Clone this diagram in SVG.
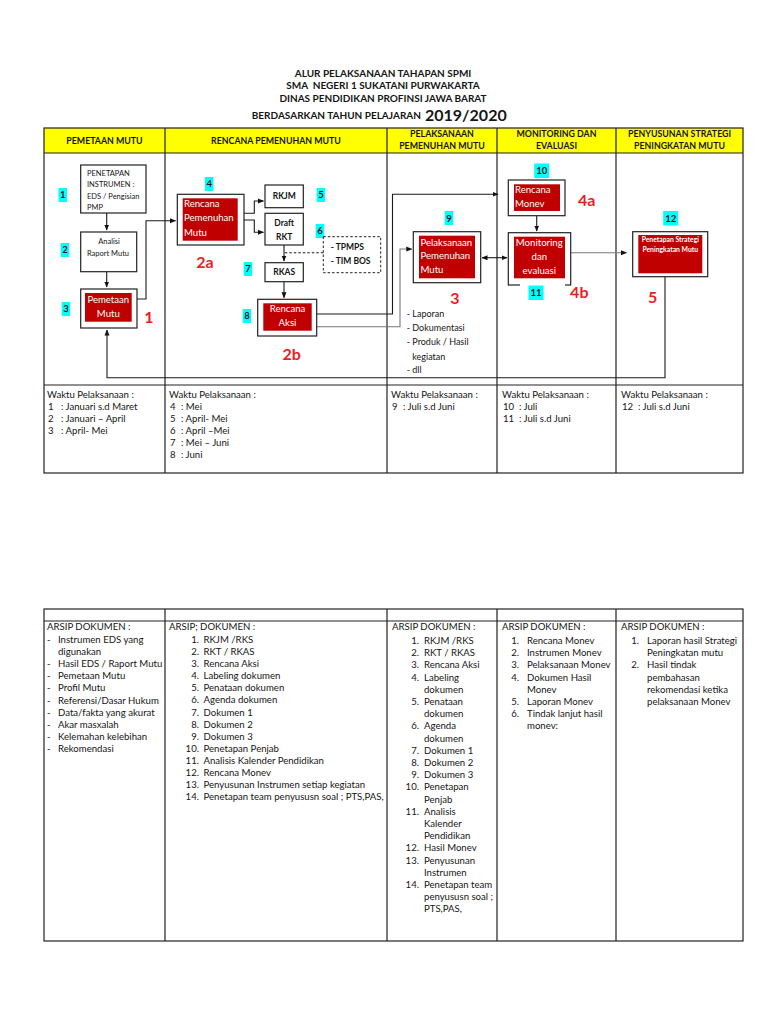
<svg xmlns="http://www.w3.org/2000/svg" width="768" height="1024" viewBox="0 0 768 1024">
<style>
text{font-family:Lato,"Liberation Sans",sans-serif;fill:#151515}
.ti{font-size:10px;font-weight:bold;text-anchor:middle}
.hd{font-size:8.8px;font-weight:bold;text-anchor:middle}
.tb{fill:none;stroke:#222;stroke-width:1.2}
.bx{fill:#fff;stroke:#222;stroke-width:1.2}
.rd{fill:#C00000}
.wt{fill:#fff;font-size:9.6px}
.sm{font-size:7.5px}
.nd{font-size:8.5px;font-weight:bold}
.bl{font-size:9px}
.lb{fill:#00FFFF}
.ln{font-size:9.5px;font-weight:bold;text-anchor:middle}
.big{fill:#EE1C25;font-size:16px;font-weight:bold;text-anchor:middle}
.bd{font-size:9.6px}
.c{stroke:#1a1a1a;stroke-width:1.1;fill:none}
.g{stroke:#777;stroke-width:1.1;fill:none}
.e{text-anchor:end}
.m{text-anchor:middle}
</style>
<defs>
<marker id="ah" markerWidth="6" markerHeight="6" refX="5.5" refY="3" orient="auto-start-reverse" markerUnits="userSpaceOnUse"><path d="M0,0.5 L6,3 L0,5.5z" fill="#111"/></marker>
</defs>
<rect width="768" height="1024" fill="#fff"/>

<g id="title">
<text class="ti" x="383" y="76.5">ALUR PELAKSANAAN TAHAPAN SPMI</text>
<text class="ti" x="383" y="89" xml:space="preserve">SMA  NEGERI 1 SUKATANI PURWAKARTA</text>
<text class="ti" x="383" y="101.5">DINAS PENDIDIKAN PROFINSI JAWA BARAT</text>
<text class="ti" x="421" y="118.5" style="text-anchor:end">BERDASARKAN TAHUN PELAJARAN</text>
<text x="425" y="121" style="font-size:16px;font-weight:bold">2019/2020</text>
</g>

<g id="upper-table">
<rect x="44" y="128" width="699" height="25" fill="#FFFF00"/>
<rect class="tb" x="44" y="128" width="699" height="345"/>
<path class="tb" d="M44,153H743M44,385H743M165,128V473M387,128V473M497,128V473M616,128V473"/>
<text class="hd" x="104.5" y="144">PEMETAAN MUTU</text>
<text class="hd" x="276" y="144">RENCANA PEMENUHAN MUTU</text>
<text class="hd" x="442" y="137">PELAKSANAAN</text>
<text class="hd" x="442" y="149">PEMENUHAN MUTU</text>
<text class="hd" x="556.5" y="137">MONITORING DAN</text>
<text class="hd" x="556.5" y="149">EVALUASI</text>
<text class="hd" x="679.5" y="137">PENYUSUNAN STRATEGI</text>
<text class="hd" x="679.5" y="149">PENINGKATAN MUTU</text>
</g>

<g id="connectors">
<path class="c" d="M106.7,213V230" marker-end="url(#ah)"/>
<path class="c" d="M106.7,271.7V287" marker-end="url(#ah)"/>
<path class="c" d="M137,299H146V220.7H175.5" marker-end="url(#ah)"/>
<path class="c" d="M665,276.7V377.7H107V330" marker-end="url(#ah)"/>
<path class="c" d="M244,213.3H254.3V201H263.5" marker-end="url(#ah)"/>
<path class="c" d="M244,220H254.3V232.3H263.5" marker-end="url(#ah)"/>
<path class="c" d="M284,245V261" marker-end="url(#ah)"/>
<path class="c" d="M323.3,252.7H284" stroke-dasharray="2.5,2"/>
<path class="c" d="M284,281.7V297.8" marker-end="url(#ah)"/>
<path class="c" d="M316.7,314H392.5V194.3H498" marker-end="url(#ah)"/>
<path class="g" d="M316.7,326.7H400V249H411.8" marker-end="url(#ah)"/>
<path class="c" d="M482,257.7H507" marker-start="url(#ah)" marker-end="url(#ah)"/>
<path class="c" d="M536.7,215.7V231" marker-end="url(#ah)"/>
<path class="g" d="M570.7,252.7H626.5" marker-end="url(#ah)"/>
</g>

<g id="n1">
<rect class="bx" x="80.7" y="165" width="65.3" height="48"/>
<text class="sm" x="87" y="175.5">PENETAPAN</text>
<text class="sm" x="87" y="186.5">INSTRUMEN :</text>
<text class="sm" x="87" y="199">EDS / Pengisian</text>
<text class="sm" x="87" y="210">PMP</text>
<rect class="lb" x="58.5" y="188" width="8.5" height="14"/>
<text class="ln" x="62.7" y="198.4">1</text>
</g>
<g id="n2">
<rect class="bx" x="80.7" y="232" width="56" height="39.7"/>
<text class="sm m" x="109" y="243.5">Analisi</text>
<text class="sm m" x="108" y="255.5">Raport Mutu</text>
<rect class="lb" x="60.7" y="243" width="8.5" height="14"/>
<text class="ln" x="65" y="253.4">2</text>
</g>
<g id="n3">
<rect class="bx" x="80.7" y="289" width="56.3" height="39"/>
<rect class="rd" x="85" y="293" width="46.7" height="28.7"/>
<text class="wt m" x="108.3" y="303.3">Pemetaan</text>
<text class="wt m" x="108.3" y="316.5">Mutu</text>
<rect class="lb" x="61.7" y="302" width="8.5" height="14"/>
<text class="ln" x="66" y="312.4">3</text>
<text class="big" x="149" y="322.5">1</text>
</g>

<g id="n4">
<rect class="bx" x="177.3" y="194.3" width="66.7" height="50.7"/>
<rect class="rd" x="182.7" y="198.3" width="55" height="42.4"/>
<text class="wt" x="184" y="207.3">Rencana</text>
<text class="wt" x="184" y="221.3">Pemenuhan</text>
<text class="wt" x="184" y="235.8">Mutu</text>
<rect class="lb" x="205" y="177" width="8.5" height="14"/>
<text class="ln" x="209.2" y="187.4">4</text>
<text class="big" x="205" y="267.5">2a</text>
</g>
<g id="n5">
<rect class="bx" x="265" y="185" width="38.3" height="22.7"/>
<text class="nd m" x="284.2" y="199.2">RKJM</text>
<rect class="lb" x="316.7" y="188" width="8.5" height="14"/>
<text class="ln" x="321" y="198.4">5</text>
</g>
<g id="n6">
<rect class="bx" x="265" y="213.3" width="38.3" height="31.7"/>
<text class="nd m" x="284.2" y="225.8">Draft</text>
<text class="nd m" x="284.2" y="239.8">RKT</text>
<rect class="lb" x="315.7" y="224" width="8.5" height="14"/>
<text class="ln" x="320" y="234.4">6</text>
</g>
<g id="n6b">
<rect x="323.3" y="236.7" width="57.4" height="36" fill="none" stroke="#222" stroke-width="1" stroke-dasharray="2.5,2"/>
<text class="nd" x="330.7" y="250">- TPMPS</text>
<text class="nd" x="330.7" y="263.7">- TIM BOS</text>
</g>
<g id="n7">
<rect class="bx" x="265" y="262.7" width="38.3" height="19"/>
<text class="nd m" x="284.2" y="275">RKAS</text>
<rect class="lb" x="243.7" y="262" width="8.5" height="14"/>
<text class="ln" x="248" y="272.4">7</text>
</g>
<g id="n8">
<rect class="bx" x="257.7" y="299.3" width="59" height="36.7"/>
<rect class="rd" x="263.3" y="303.3" width="48.4" height="27.4"/>
<text class="wt m" x="287.5" y="311.6">Rencana</text>
<text class="wt m" x="287.5" y="326">Aksi</text>
<rect class="lb" x="242.7" y="309" width="8.5" height="14"/>
<text class="ln" x="247" y="319.4">8</text>
<text class="big" x="291.7" y="360">2b</text>
</g>

<g id="n9">
<rect class="bx" x="413.3" y="231.7" width="67.4" height="51"/>
<rect class="rd" x="419" y="235.7" width="56" height="42.6"/>
<text class="wt" x="420.5" y="245.6">Pelaksanaan</text>
<text class="wt" x="420.5" y="259">Pemenuhan</text>
<text class="wt" x="420.5" y="273.3">Mutu</text>
<rect class="lb" x="444.7" y="211" width="8.5" height="14"/>
<text class="ln" x="449" y="221.5">9</text>
<text class="big" x="455" y="304">3</text>
<text class="bl" x="406.7" y="317.3">-  Laporan</text>
<text class="bl" x="406.7" y="331.3">-  Dokumentasi</text>
<text class="bl" x="406.7" y="345.3">-  Produk / Hasil</text>
<text class="bl" x="412.3" y="359.6">kegiatan</text>
<text class="bl" x="406.7" y="373">-  dll</text>
</g>

<g id="n10">
<rect class="bx" x="508.3" y="180" width="56.7" height="35.7"/>
<rect class="rd" x="514" y="184.3" width="46" height="26.7"/>
<text class="wt" x="515" y="193.3">Rencana</text>
<text class="wt" x="515" y="206.6">Monev</text>
<rect class="lb" x="534.2" y="163.5" width="15" height="14.5"/>
<text class="ln" x="541.7" y="174">10</text>
<text class="big" x="586.7" y="205.7">4a</text>
</g>
<g id="n11">
<rect class="bx" x="508.3" y="232.7" width="62.4" height="52.3"/>
<rect class="rd" x="514" y="236.7" width="51" height="41.6"/>
<text class="wt m" x="539.3" y="245.6">Monitoring</text>
<text class="wt m" x="539.3" y="260">dan</text>
<text class="wt m" x="539.3" y="274.3">evaluasi</text>
<rect x="520" y="284" width="45" height="2.5" fill="#fff"/>
<rect class="lb" x="528.5" y="285.5" width="15" height="14.5"/>
<text class="ln" x="536" y="296">11</text>
<text class="big" x="579.3" y="298">4b</text>
</g>
<g id="n12">
<rect class="bx" x="632.7" y="231.7" width="75" height="45"/>
<rect class="rd" x="638.3" y="235" width="64" height="38.3"/>
<text class="m" x="670.3" y="242.3" style="fill:#fff;font-size:6.8px;font-weight:bold">Penetapan Strategi</text>
<text class="m" x="670.3" y="251.6" style="fill:#fff;font-size:6.8px;font-weight:bold">Peningkatan Mutu</text>
<rect class="lb" x="663.2" y="211" width="15" height="14.5"/>
<text class="ln" x="670.7" y="221.5">12</text>
<text class="big" x="652.7" y="302.5">5</text>
</g>

<g id="waktu">
<text class="bd" x="47" y="398">Waktu Pelaksanaan :</text>
<text class="bd" x="48" y="410">1</text><text class="bd" x="61" y="410">: Januari s.d Maret</text>
<text class="bd" x="48" y="422">2</text><text class="bd" x="61" y="422">: Januari – April</text>
<text class="bd" x="48" y="434">3</text><text class="bd" x="61" y="434">: April- Mei</text>
<text class="bd" x="169" y="398">Waktu Pelaksanaan :</text>
<text class="bd" x="170" y="410">4</text><text class="bd" x="181" y="410">: Mei</text>
<text class="bd" x="170" y="422">5</text><text class="bd" x="181" y="422">: April- Mei</text>
<text class="bd" x="170" y="434">6</text><text class="bd" x="181" y="434">: April –Mei</text>
<text class="bd" x="170" y="446">7</text><text class="bd" x="181" y="446">: Mei – Juni</text>
<text class="bd" x="170" y="458">8</text><text class="bd" x="181" y="458">: Juni</text>
<text class="bd" x="391" y="398">Waktu Pelaksanaan :</text>
<text class="bd" x="392" y="410">9</text><text class="bd" x="403" y="410">: Juli s.d Juni</text>
<text class="bd" x="502" y="398">Waktu Pelaksanaan :</text>
<text class="bd" x="503" y="410">10</text><text class="bd" x="519" y="410">: Juli</text>
<text class="bd" x="503" y="422">11</text><text class="bd" x="519" y="422">: Juli s.d Juni</text>
<text class="bd" x="621" y="398">Waktu Pelaksanaan :</text>
<text class="bd" x="622" y="410">12</text><text class="bd" x="638" y="410">: Juli s.d Juni</text>
</g>

<g id="lower-table">
<rect class="tb" x="44" y="609" width="699" height="332"/>
<path class="tb" d="M44,621H743M165,609V941M387,609V941M497,609V941M616,609V941"/>
<g id="arsip1">
<text class="bd" x="47" y="630">ARSIP DOKUMEN :</text>
<text class="bd" x="47" y="643">-</text><text class="bd" x="58" y="643">Instrumen EDS yang</text>
<text class="bd" x="58" y="655">digunakan</text>
<text class="bd" x="47" y="667">-</text><text class="bd" x="58" y="667">Hasil EDS / Raport Mutu</text>
<text class="bd" x="47" y="679">-</text><text class="bd" x="58" y="679">Pemetaan Mutu</text>
<text class="bd" x="47" y="691">-</text><text class="bd" x="58" y="691">Profil Mutu</text>
<text class="bd" x="47" y="704">-</text><text class="bd" x="58" y="704">Referensi/Dasar Hukum</text>
<text class="bd" x="47" y="716">-</text><text class="bd" x="58" y="716">Data/fakta  yang akurat</text>
<text class="bd" x="47" y="728">-</text><text class="bd" x="58" y="728">Akar masxalah</text>
<text class="bd" x="47" y="740">-</text><text class="bd" x="58" y="740">Kelemahan kelebihan</text>
<text class="bd" x="47" y="752">-</text><text class="bd" x="58" y="752">Rekomendasi</text>
</g>
<g id="arsip2">
<text class="bd" x="169" y="630">ARSIP; DOKUMEN :</text>
<text class="bd e" x="199" y="643">1.</text><text class="bd" x="203.5" y="643">RKJM /RKS</text>
<text class="bd e" x="199" y="655">2.</text><text class="bd" x="203.5" y="655">RKT / RKAS</text>
<text class="bd e" x="199" y="667">3.</text><text class="bd" x="203.5" y="667">Rencana Aksi</text>
<text class="bd e" x="199" y="679">4.</text><text class="bd" x="203.5" y="679">Labeling  dokumen</text>
<text class="bd e" x="199" y="691">5.</text><text class="bd" x="203.5" y="691">Penataan dokumen</text>
<text class="bd e" x="199" y="703">6.</text><text class="bd" x="203.5" y="703">Agenda dokumen</text>
<text class="bd e" x="199" y="715.5">7.</text><text class="bd" x="203.5" y="715.5">Dokumen 1</text>
<text class="bd e" x="199" y="727.5">8.</text><text class="bd" x="203.5" y="727.5">Dokumen 2</text>
<text class="bd e" x="199" y="739.5">9.</text><text class="bd" x="203.5" y="739.5">Dokumen 3</text>
<text class="bd e" x="199" y="751.5">10.</text><text class="bd" x="203.5" y="751.5">Penetapan Penjab</text>
<text class="bd e" x="199" y="763.5">11.</text><text class="bd" x="203.5" y="763.5">Analisis Kalender Pendidikan</text>
<text class="bd e" x="199" y="775.5">12.</text><text class="bd" x="203.5" y="775.5">Rencana Monev</text>
<text class="bd e" x="199" y="787.5">13.</text><text class="bd" x="203.5" y="787.5">Penyusunan  Instrumen  setiap kegiatan</text>
<text class="bd e" x="199" y="799.5">14.</text><text class="bd" x="203.5" y="799.5">Penetapan team penyususn soal ; PTS,PAS,</text>
</g>
<g id="arsip3">
<text class="bd" x="392" y="630">ARSIP DOKUMEN :</text>
<text class="bd e" x="419" y="644">1.</text><text class="bd" x="424" y="644">RKJM /RKS</text>
<text class="bd e" x="419" y="656.2">2.</text><text class="bd" x="424" y="656.2">RKT / RKAS</text>
<text class="bd e" x="419" y="668.4">3.</text><text class="bd" x="424" y="668.4">Rencana Aksi</text>
<text class="bd e" x="419" y="680.6">4.</text><text class="bd" x="424" y="680.6">Labeling</text>
<text class="bd" x="424" y="692.8">dokumen</text>
<text class="bd e" x="419" y="705">5.</text><text class="bd" x="424" y="705">Penataan</text>
<text class="bd" x="424" y="717.2">dokumen</text>
<text class="bd e" x="419" y="729.4">6.</text><text class="bd" x="424" y="729.4">Agenda</text>
<text class="bd" x="424" y="741.6">dokumen</text>
<text class="bd e" x="419" y="753.8">7.</text><text class="bd" x="424" y="753.8">Dokumen 1</text>
<text class="bd e" x="419" y="766">8.</text><text class="bd" x="424" y="766">Dokumen 2</text>
<text class="bd e" x="419" y="778.2">9.</text><text class="bd" x="424" y="778.2">Dokumen 3</text>
<text class="bd e" x="419" y="790.4">10.</text><text class="bd" x="424" y="790.4">Penetapan</text>
<text class="bd" x="424" y="802.6">Penjab</text>
<text class="bd e" x="419" y="814.8">11.</text><text class="bd" x="424" y="814.8">Analisis</text>
<text class="bd" x="424" y="827">Kalender</text>
<text class="bd" x="424" y="839.2">Pendidikan</text>
<text class="bd e" x="419" y="851.4">12.</text><text class="bd" x="424" y="851.4">Hasil Monev</text>
<text class="bd e" x="419" y="863.6">13.</text><text class="bd" x="424" y="863.6">Penyusunan</text>
<text class="bd" x="424" y="875.8">Instrumen</text>
<text class="bd e" x="419" y="888">14.</text><text class="bd" x="424" y="888">Penetapan team</text>
<text class="bd" x="424" y="900.2">penyususn soal ;</text>
<text class="bd" x="424" y="912.4">PTS,PAS,</text>
</g>
<g id="arsip4">
<text class="bd" x="502" y="630">ARSIP DOKUMEN :</text>
<text class="bd e" x="519" y="644">1.</text><text class="bd" x="527" y="644">Rencana Monev</text>
<text class="bd e" x="519" y="656.2">2.</text><text class="bd" x="527" y="656.2">Instrumen Monev</text>
<text class="bd e" x="519" y="668.4">3.</text><text class="bd" x="527" y="668.4">Pelaksanaan Monev</text>
<text class="bd e" x="519" y="680.6">4.</text><text class="bd" x="527" y="680.6">Dokumen Hasil</text>
<text class="bd" x="527" y="692.8">Monev</text>
<text class="bd e" x="519" y="705">5.</text><text class="bd" x="527" y="705">Laporan Monev</text>
<text class="bd e" x="519" y="717.2">6.</text><text class="bd" x="527" y="717.2">Tindak lanjut hasil</text>
<text class="bd" x="527" y="729.4">monev:</text>
</g>
<g id="arsip5">
<text class="bd" x="621" y="630">ARSIP DOKUMEN :</text>
<text class="bd e" x="639" y="644">1.</text><text class="bd" x="647" y="644">Laporan hasil Strategi</text>
<text class="bd" x="647" y="656.2">Peningkatan mutu</text>
<text class="bd e" x="639" y="668.4">2.</text><text class="bd" x="647" y="668.4">Hasil tindak</text>
<text class="bd" x="647" y="680.6">pembahasan</text>
<text class="bd" x="647" y="692.8">rekomendasi ketika</text>
<text class="bd" x="647" y="705">pelaksanaan Monev</text>
</g>
</g>
</svg>
